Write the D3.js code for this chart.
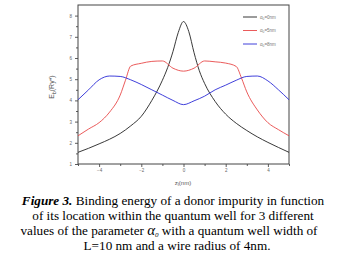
<!DOCTYPE html>
<html>
<head>
<meta charset="utf-8">
<script src="https://cdn.jsdelivr.net/npm/d3@7"></script>
<style>
    body { margin: 0; background: #fff; }
    svg { display: block; }
</style>
</head>
<body>
<div id="graph-container"></div>
<script>
// DATA
const zBlack = [-5, -4.5, -4, -3.5, -3, -2.5, -2, -1.5, -1, -0.75, -0.5, -0.25, 0, 0.25, 0.5, 0.75, 1, 1.5, 2, 2.5, 3, 3.5, 4, 4.5, 5]
const eBlack = [1.55, 1.74, 1.95, 2.17, 2.44, 2.8, 3.25, 4.0, 4.95, 5.55, 6.3, 7.2, 7.72, 7.25, 6.25, 5.4, 4.8, 3.95, 3.35, 2.92, 2.58, 2.28, 2.02, 1.78, 1.55]

const zRed = [-5, -4.5, -4, -3.5, -3, -2.75, -2.5, -2, -1.5, -1, -0.5, 0, 0.5, 1, 1.5, 2, 2.5, 2.75, 3, 3.5, 4, 4.5, 5]
const eRed = [2.33, 2.65, 2.95, 3.45, 4.25, 4.95, 5.62, 5.75, 5.84, 5.86, 5.52, 5.38, 5.52, 5.86, 5.82, 5.76, 5.6, 5.05, 4.4, 3.55, 2.95, 2.62, 2.33]

const zBlue = [-5, -4.5, -4, -3.5, -3, -2.5, -2, -1.5, -1, -0.5, 0, 0.5, 1, 1.5, 2, 2.5, 3, 3.5, 4, 4.5, 5]
const eBlue = [4.03, 4.5, 4.97, 5.15, 5.13, 4.97, 4.75, 4.5, 4.25, 4.0, 3.8, 3.98, 4.2, 4.5, 4.72, 4.95, 5.13, 5.15, 4.92, 4.5, 4.03]

const seriesNames = ['0nm', '5nm', '8nm']
const seriesColors = ['#222222', '#e84848', '#2a2ad6']

const xTicks = [-4, -2, 0, 2, 4]
const yTicks = [1, 2, 3, 4, 5, 6, 7, 8]

const captionLines = [
    'Binding energy of a donor impurity in function',
    'of its location within the quantum well for 3 different',
    'with a quantum well width of',
    'L=10 nm and a wire radius of 4nm.'
]

// SETTINGS
const settings = {
    width: 351,
    height: 263,
    plot: { left: 78, right: 289, top: 5, bottom: 164 }
}

const svg = d3.select('#graph-container').append('svg')
    .attr('width', settings.width)
    .attr('height', settings.height)

svg.append('rect').attr('width', settings.width).attr('height', settings.height).attr('fill', '#fff')

const x = d3.scaleLinear().domain([-5, 5]).range([settings.plot.left, settings.plot.right])
const y = d3.scaleLinear().domain([1, 8.5]).range([settings.plot.bottom, settings.plot.top])

// axes
const xAxis = d3.axisBottom(x).tickValues(xTicks).tickSize(3).tickPadding(2).tickFormat(d3.format('d'))
const yAxis = d3.axisLeft(y).tickValues(yTicks).tickSize(3).tickPadding(3).tickFormat(d3.format('d'))

const xMinor = d3.axisBottom(x).tickValues([-5, -3, -1, 1, 3, 5]).tickSize(2).tickFormat('')
const yMinor = d3.axisLeft(y).tickValues(d3.range(1.5, 8.5, 1)).tickSize(2).tickFormat('')

function styleAxis(g) {
    g.select('.domain').remove()
    g.selectAll('line').attr('stroke', '#333').attr('stroke-width', 0.8)
    g.selectAll('text').attr('fill', '#666').style('font-family', 'Arial, sans-serif').style('font-size', '4.5px')
}

svg.append('g').attr('transform', `translate(0,${settings.plot.bottom})`).call(xAxis).call(styleAxis)
svg.append('g').attr('transform', `translate(0,${settings.plot.bottom})`).call(xMinor).call(styleAxis)
svg.append('g').attr('transform', `translate(${settings.plot.left},0)`).call(yAxis).call(styleAxis)
svg.append('g').attr('transform', `translate(${settings.plot.left},0)`).call(yMinor).call(styleAxis)

// frame
svg.append('rect')
    .attr('x', settings.plot.left)
    .attr('y', settings.plot.top)
    .attr('width', settings.plot.right - settings.plot.left)
    .attr('height', settings.plot.bottom - settings.plot.top)
    .attr('fill', 'none')
    .attr('stroke', '#444')
    .attr('stroke-width', 1)

// curves
const line = d3.line()
    .x(d => x(d[0]))
    .y(d => y(d[1]))
    .curve(d3.curveMonotoneX)

const series = [
    d3.zip(zBlack, eBlack),
    d3.zip(zRed, eRed),
    d3.zip(zBlue, eBlue)
]

series.forEach((s, i) => {
    svg.append('path')
        .datum(s)
        .attr('d', line)
        .attr('fill', 'none')
        .attr('stroke', seriesColors[i])
        .attr('stroke-width', 0.9)
})

// legend
const legend = svg.append('g').attr('transform', 'translate(243,17)')
seriesNames.forEach((name, i) => {
    const row = legend.append('g').attr('transform', `translate(0,${i * 13.5})`)
    row.append('line').attr('x1', 0).attr('x2', 14).attr('stroke', seriesColors[i]).attr('stroke-width', 0.9)
    const t = row.append('text').attr('x', 17).attr('y', 1.5)
        .attr('fill', '#777').style('font-family', 'Arial, sans-serif').style('font-size', '4.5px')
    t.append('tspan').text('α')
    t.append('tspan').attr('dy', 1).style('font-size', '3.2px').text('0')
    t.append('tspan').attr('dy', -1).text('=' + name)
})

// axis titles
const yTitle = svg.append('text')
    .attr('transform', 'translate(54,87) rotate(-90)')
    .attr('text-anchor', 'middle')
    .attr('fill', '#555')
    .style('font-family', 'Arial, sans-serif')
    .style('font-size', '7px')
yTitle.append('tspan').text('E')
yTitle.append('tspan').attr('dy', 1.5).style('font-size', '5px').text('b')
yTitle.append('tspan').attr('dy', -1.5).text('(Ry*)')

const xTitle = svg.append('text')
    .attr('x', 183).attr('y', 185)
    .attr('text-anchor', 'middle')
    .attr('fill', '#555')
    .style('font-family', 'Arial, sans-serif')
    .style('font-size', '6px')
xTitle.append('tspan').text('z')
xTitle.append('tspan').attr('dy', 1.3).style('font-size', '4.5px').text('i')
xTitle.append('tspan').attr('dy', -1.3).text('(nm)')

// caption
const cap = svg.append('g')
    .style('font-family', '"Liberation Serif", "Times New Roman", serif')
    .style('font-size', '13.2px')
    .attr('fill', '#000')

const l1 = cap.append('text').attr('x', 173).attr('y', 204.5).attr('text-anchor', 'middle')
l1.append('tspan').style('font-weight', 'bold').style('font-style', 'italic').text('Figure 3.')
l1.append('tspan').text(' ' + captionLines[0])

cap.append('text').attr('x', 173).attr('y', 220).attr('text-anchor', 'middle').text(captionLines[1])

const l3 = cap.append('text').attr('x', 169).attr('y', 235).attr('text-anchor', 'middle')
l3.append('tspan').text('values of the parameter ')
l3.append('tspan').style('font-style', 'italic').style('font-size', '15px').text('α')
l3.append('tspan').attr('dy', 2).style('font-style', 'italic').style('font-size', '7px').text('0')
l3.append('tspan').attr('dy', -2).text('  ' + captionLines[2])

cap.append('text').attr('x', 177).attr('y', 250).attr('text-anchor', 'middle').text(captionLines[3])
</script>
</body>
</html>
